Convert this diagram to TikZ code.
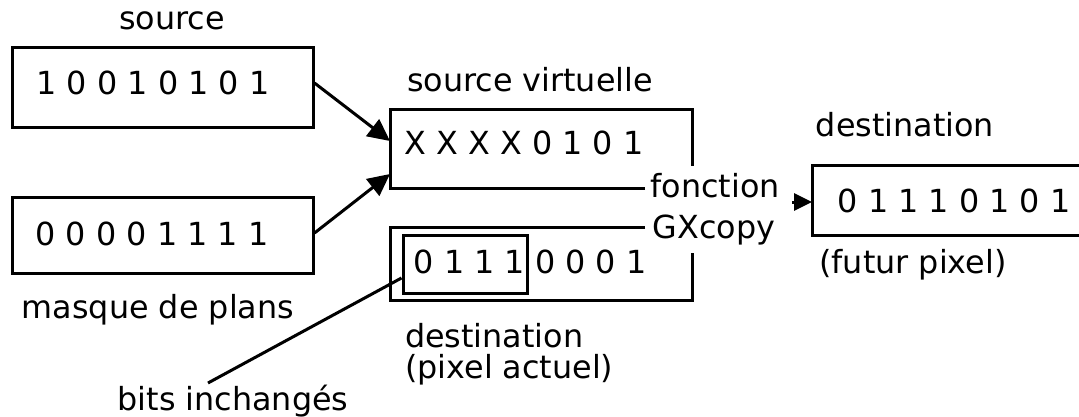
\documentclass[tikz,border=0pt]{standalone}
\usepackage{fontspec}
\setmainfont{DejaVu Sans}
\usetikzlibrary{arrows.meta}
\begin{document}
\begin{tikzpicture}[x=1pt,y=-1pt,
  txt/.style={font=\fontsize{31.8}{38}\selectfont, inner sep=0, anchor=base},
  bits/.style={txt},
  boxline/.style={line width=3pt, line join=miter},
  boxnode/.style={draw, line width=3pt, inner sep=0, rectangle},
  arr/.style={line width=3pt, -{Triangle[length=22pt,width=21pt]}},
  smallarr/.style={line width=3pt, -{Triangle[length=18pt,width=17pt]}},
]
\useasboundingbox (0,0) rectangle (1079,417);

% source and mask
\node[txt] (srclab) at (172,30) {source};
\node[boxnode, minimum width=301pt, minimum height=80pt] (src) at (162.5,88) {};
\node[bits] (srcbits) at (153,95) {1 0 0 1 0 1 0 1};
\node[boxnode, minimum width=301pt, minimum height=76pt] (mask) at (162.5,235) {};
\node[bits] (maskbits) at (152,245) {0 0 0 0 1 1 1 1};
\node[txt] (masklab) at (158,318) {masque de plans};

% virtual source
\node[txt] (vlab) at (530,92) {source virtuelle};
\coordinate (vin1) at (390,141);
\coordinate (vin2) at (390,174);
\draw[boxline] (645,188) -- (390,188) -- (390,110) -- (692,110) -- (692,166);
\node[bits] (vbits) at (524,155) {X X X X 0 1 0 1};

% current destination
\draw[boxline] (645,227) -- (390,227) -- (390,300) -- (692,300) -- (692,253);
\node[boxnode, minimum width=124pt, minimum height=58pt] (inner) at (465,264) {};
\node[bits] (dbits) at (530,273) {0 1 1 1 0 0 0 1};
\node[txt, anchor=base west] (dlab1) at (405,347) {destination};
\node[txt, anchor=base west] (dlab2) at (405,378) {(pixel actuel)};

% function
\node[txt] (fonc) at (715,197) {fonction};
\node[txt] (gx) at (714,238) {GXcopy};

% result
\node[txt] (reslab) at (905,137) {destination};
\draw[boxline] (1079,166) -- (812,166) -- (812,235) -- (1079,235);
\coordinate (resin) at (812,202);
\coordinate (resarr) at (792,202);
\node[bits] (resbits) at (954,212) {0 1 1 1 0 1 0 1};
\node[txt] (futur) at (913,273) {(futur pixel)};

% bits inchanges
\node[txt] (bitslab) at (233,410) {bits inchangés};
\coordinate (bitsend) at (208,383);

% connectors
\draw[arr] ([yshift=5pt]src.east) -- (vin1);
\draw[arr] ([yshift=2pt]mask.east) -- (vin2);
\draw[smallarr] (resarr) -- (resin);
\draw[line width=3pt] (bitsend) -- ([yshift=-14pt]inner.west);
\end{tikzpicture}
\end{document}
